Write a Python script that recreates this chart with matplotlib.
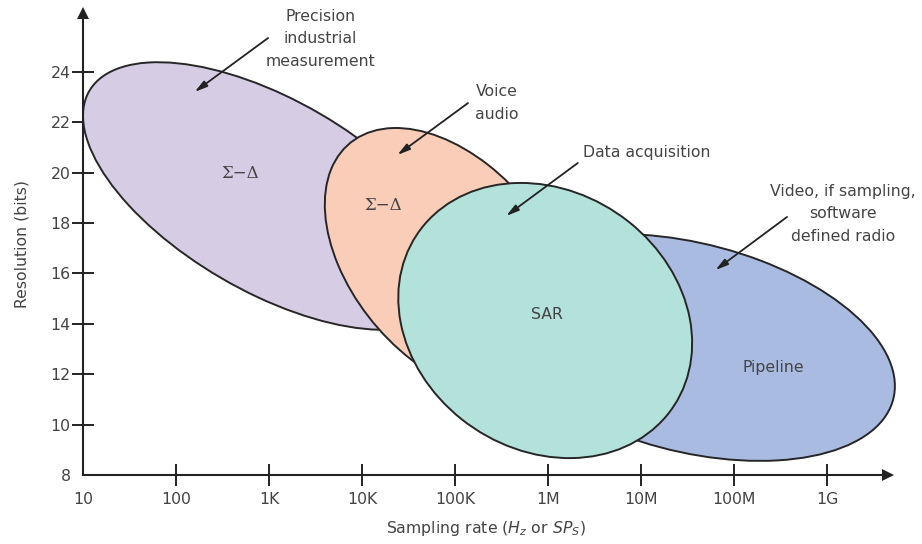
import numpy as np
import matplotlib
matplotlib.use("Agg")
import matplotlib.pyplot as plt
from matplotlib.patches import Ellipse

# ---- data ----
x_ticks = [1, 2, 3, 4, 5, 6, 7, 8, 9]          # log10(sampling rate)
x_ticklabels = ["10", "100", "1K", "10K", "100K", "1M", "10M", "100M", "1G"]
y_ticks = [8, 10, 12, 14, 16, 18, 20, 22, 24]
y_ticklabels = [str(v) for v in y_ticks]

# ADC regions: centre (log10 rate, bits), half x-extent (decades), half y-extent (bits), correlation
regions = ["Precision", "Voice", "Pipeline", "SAR"]
centre_x = [3.02, 4.94, 7.53, 5.97]
centre_y = [19.07, 16.45, 13.06, 14.13]
half_x = [2.02, 1.34, 2.20, 1.58]
half_y = [5.31, 5.32, 4.50, 5.46]
corr = [-0.60, -0.43, -0.34, -0.165]
fills = ["#d6cde5", "#f9cdb8", "#aabbe2", "#b3e2da"]
inner_labels = ["Σ−Δ", "Σ−Δ", "Pipeline", "SAR"]
inner_pos = [(2.69, 19.98), (4.23, 18.71), (8.42, 12.25), (5.99, 14.35)]

callouts = ["Precision\nindustrial\nmeasurement", "Voice\naudio", "Data acquisition",
            "Video, if sampling,\nsoftware\ndefined radio"]
callout_pos = [(3.55, 26.50), (5.22, 23.50), (6.38, 20.78), (9.17, 19.55)]
callout_ha = ["center", "left", "left", "center"]
callout_va = ["top", "top", "center", "top"]
arrow_from = [(2.99, 25.34), (5.14, 22.76), (6.32, 20.38), (8.57, 18.24)]
arrow_to = [(2.20, 23.20), (4.38, 20.70), (5.55, 18.28), (7.80, 16.13)]

plt.rcParams['font.family'] = ['DejaVu Sans']
fig = plt.figure(figsize=(9.22, 5.44), dpi=100)
ax = fig.add_axes([83/922, 69/544, 805/922, 462/544])
xmax = 1 + 805/93
ymax = 8 + 462/25.2
ax.set_xlim(1, xmax)
ax.set_ylim(8, ymax)

edge = "#262626"
for i in range(len(regions)):
    D = np.array([[half_x[i]**2, corr[i]*half_x[i]*half_y[i]],
                  [corr[i]*half_x[i]*half_y[i], half_y[i]**2]])
    w, v = np.linalg.eigh(D)
    ang = np.degrees(np.arctan2(v[1, 1], v[0, 1]))
    e = Ellipse((centre_x[i], centre_y[i]), 2*np.sqrt(w[1]), 2*np.sqrt(w[0]), angle=ang,
                facecolor=fills[i], edgecolor=edge, lw=1.4, zorder=2+i, clip_on=False)
    ax.add_patch(e)

text_col = "#444444"
fs = 11.3
for i, lab in enumerate(inner_labels):
    fam = ['DejaVu Serif'] if lab.startswith("Σ") else ['DejaVu Sans']
    ax.text(inner_pos[i][0], inner_pos[i][1], lab, ha="center", va="center",
            fontsize=fs + (0.7 if i < 2 else 0), color=text_col, family=fam, zorder=10)

for i, lab in enumerate(callouts):
    ax.text(callout_pos[i][0], callout_pos[i][1], lab, ha=callout_ha[i], va=callout_va[i],
            fontsize=fs, color=text_col, linespacing=1.62, zorder=10)
    ax.annotate("", xy=arrow_to[i], xytext=arrow_from[i],
                arrowprops=dict(arrowstyle="-|>,head_length=0.75,head_width=0.2",
                                color="#222222", lw=1.3, shrinkA=0, shrinkB=0), zorder=11)

# axes with arrows
for s in ["top", "right"]:
    ax.spines[s].set_visible(False)
for s in ["left", "bottom"]:
    ax.spines[s].set_color("#222222")
    ax.spines[s].set_linewidth(1.5)
    ax.spines[s].set_zorder(12)
ax.plot(xmax, 8, marker=">", color="#222222", ms=8, clip_on=False, zorder=13,
        markeredgewidth=0)
ax.plot(1, ymax, marker="^", color="#222222", ms=8, clip_on=False, zorder=13,
        markeredgewidth=0)

ax.set_xticks(x_ticks)
ax.set_xticklabels(x_ticklabels)
ax.set_yticks(y_ticks)
ax.set_yticklabels(y_ticklabels)
ax.tick_params(direction="inout", length=16, width=1.4, color="#222222",
               labelsize=fs, labelcolor=text_col)
ax.tick_params(axis="x", pad=4)
ax.tick_params(axis="y", pad=1)
ax.xaxis.get_major_ticks()[0].tick1line.set_visible(False)
ax.yaxis.get_major_ticks()[0].tick1line.set_visible(False)

ax.set_xlabel(r"Sampling rate ($\mathit{H_z}$ or $\mathit{SP_S}$)", fontsize=fs,
              color=text_col, labelpad=9)
ax.set_ylabel("Resolution (bits)", fontsize=fs, color=text_col, labelpad=15)

fig.savefig("out.png", dpi=100)
